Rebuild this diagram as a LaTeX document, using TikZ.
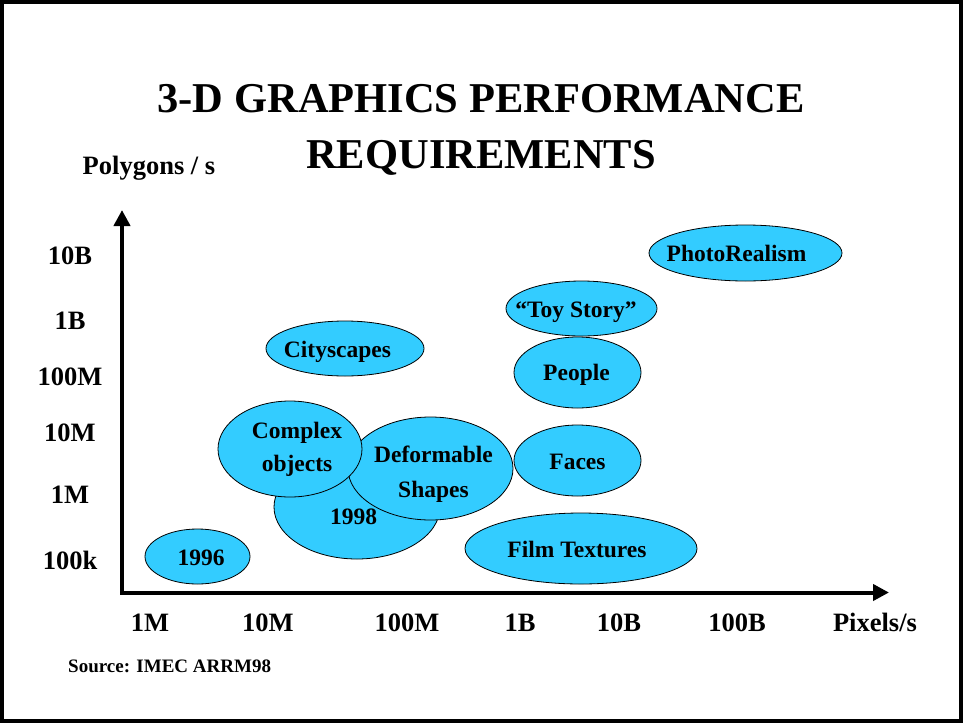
\documentclass[tikz,border=0pt]{standalone}
\usepackage{fontspec}
\setmainfont{Liberation Serif}
\usetikzlibrary{arrows.meta,shapes.geometric}
\definecolor{skyblue}{RGB}{51,204,255}
\tikzset{
    blob/.style={ellipse, draw, fill=skyblue, line width=0.8pt, inner sep=0pt},
    txt/.style={anchor=base, inner sep=0pt, font=\fontsize{23.5}{28}\selectfont\bfseries},
    tick/.style={anchor=base, inner sep=0pt, font=\fontsize{26.5}{30}\selectfont\bfseries},
    axis/.style={line width=4pt, {Triangle[length=16pt,width=16pt]}-{Triangle[length=16pt,width=16pt]}},
}

\begin{document}
\begin{tikzpicture}[x=1pt,y=-1pt]
        \useasboundingbox (0,0) rectangle (963,723);
        \draw[line width=4pt] (2,2) rectangle (961,720.5);
        \node[anchor=base, inner sep=0pt, font=\fontsize{42.5}{48}\selectfont\bfseries] (title) at (481,112.5) {3-D GRAPHICS PERFORMANCE};
        \node[anchor=base, inner sep=0pt, font=\fontsize{42.5}{48}\selectfont\bfseries] (subtitle) at (481,168) {REQUIREMENTS};
        \node[tick] (ylabel) at (149,174) {Polygons / s};
        \coordinate (ytip) at (122,210);
        \coordinate (xtip) at (889,592.5);
        \draw[axis] (ytip) |- (xtip);
        \node[tick] (y10B) at (70,264) {10B};
        \node[tick] (y1B) at (70,329) {1B};
        \node[tick] (y100M) at (70,385) {100M};
        \node[tick] (y10M) at (70,441) {10M};
        \node[tick] (y1M) at (70,503) {1M};
        \node[tick] (y100k) at (70,569) {100k};
        \node[tick] (x1M) at (150,631) {1M};
        \node[tick] (x10M) at (268,631) {10M};
        \node[tick] (x100M) at (407,631) {100M};
        \node[tick] (x1B) at (520,631) {1B};
        \node[tick] (x10B) at (619,631) {10B};
        \node[tick] (x100B) at (737,631) {100B};
        \node[tick] (xlabel) at (875,631) {Pixels/s};
        \node[anchor=base west, inner sep=0pt, font=\fontsize{19}{22}\selectfont\bfseries] (source) at (68,672) {Source: IMEC ARRM98};
        % ellipses, back to front
        \node[blob, minimum width=105pt, minimum height=55pt] (e1996) at (197.5,556.5) {};
        \node[blob, minimum width=166pt, minimum height=104pt] (e1998) at (357,507) {};
        \node[blob, minimum width=165pt, minimum height=103pt] (deform) at (430.5,468.5) {};
        \node[blob, minimum width=144pt, minimum height=96pt] (complex) at (290,449) {};
        \node[blob, minimum width=158pt, minimum height=55pt] (city) at (345,348.5) {};
        \node[blob, minimum width=232pt, minimum height=71pt] (film) at (581,548.5) {};
        \node[blob, minimum width=127pt, minimum height=71pt] (faces) at (577.5,460.5) {};
        \node[blob, minimum width=127pt, minimum height=71pt] (people) at (577.5,372.5) {};
        \node[blob, minimum width=151pt, minimum height=55pt] (toy) at (581.5,308.5) {};
        \node[blob, minimum width=193pt, minimum height=56pt] (photo) at (745.5,253) {};
        % texts
        \node[txt] (t1996) at (201,565) {1996};
        \node[txt] (t1998) at (353.5,524) {1998};
        \node[txt] (tcomplex) at (297,438) {Complex};
        \node[txt] (tobjects) at (297,471) {objects};
        \node[txt] (tdeform) at (433.5,462) {Deformable};
        \node[txt] (tshapes) at (433.5,497) {Shapes};
        \node[txt] (tcity) at (337.5,357) {Cityscapes};
        \node[txt] (tfilm) at (577,557) {Film Textures};
        \node[txt] (tfaces) at (577.5,469) {Faces};
        \node[txt] (tpeople) at (576.5,380) {People};
        \node[txt] (ttoy) at (576,317) {“Toy Story”};
        \node[txt] (tphoto) at (736.5,261) {PhotoRealism};
    \end{tikzpicture}
\end{document}
